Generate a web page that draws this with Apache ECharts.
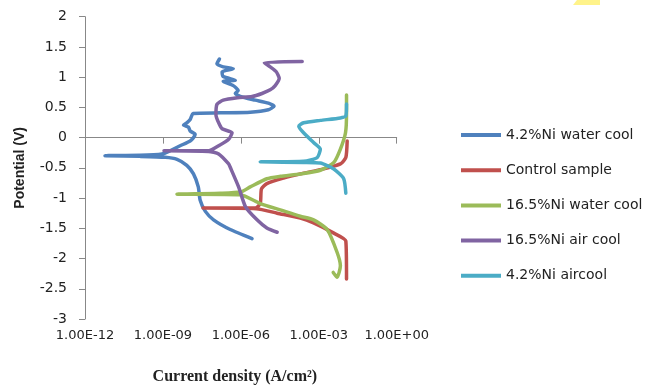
<!DOCTYPE html>
<html>
<head>
<meta charset="utf-8">
<script src="https://cdn.jsdelivr.net/npm/echarts@6/dist/echarts.min.js"></script>
<style>html,body{margin:0;padding:0;background:#fff}#c{width:657px;height:390px}</style>
</head>
<body>
<div id="c"></div>
<script>
// Series names
const seriesNames = ['4.2%Ni water cool', 'Control sample', '16.5%Ni water cool', '16.5%Ni air cool', '4.2%Ni aircool'];
// x tick values (A/cm2) and y range (V)
const xTicks = [1e-12, 1e-9, 1e-6, 1e-3, 1];
const yRange = [-3, 2];

// [current density (A/cm2), potential (V)]
const blueData = [
  [1.5e-7,1.30],[1.2e-7,1.22],[2.1e-7,1.17],[5.1e-7,1.14],[1.9e-7,1.09],[2.1e-7,1.01],[6.1e-7,0.95],
  [2.1e-7,0.93],[5.1e-7,0.86],[7.9e-7,0.78],[6.1e-7,0.73],[9.6e-7,0.68],[3.6e-6,0.62],[1.15e-5,0.57],
  [1.9e-5,0.52],[1.15e-5,0.46],[2.3e-6,0.42],[1.6e-7,0.41],[1.46e-8,0.40],[1.12e-8,0.30],[8.3e-9,0.245],
  [6.2e-9,0.207],[9.6e-9,0.174],[1.12e-8,0.109],[1.74e-8,0.054],[1.5e-8,0],[1.12e-8,-0.054],
  [4.6e-9,-0.135],[1.9e-9,-0.217],[9.2e-10,-0.272],[1.3e-10,-0.293],[5.9e-12,-0.298],[1.3e-10,-0.31],
  [1.22e-9,-0.326],[3.5e-9,-0.36],[8.3e-9,-0.46],[1.5e-8,-0.60],[2.3e-8,-0.815],[2.7e-8,-1.03],
  [4.3e-8,-1.22],[8.9e-8,-1.36],[3.9e-7,-1.52],[2.7e-6,-1.67]
];
const redData = [
  [1.24e-2,-0.054],[1.1e-2,-0.33],[6.8e-3,-0.435],[1.55e-3,-0.517],[1.95e-4,-0.60],[4.4e-5,-0.67],
  [1.0e-5,-0.76],[6.2e-6,-0.85],[5.6e-6,-1.09],[3.6e-6,-1.165],[3.5e-8,-1.165],[4.0e-6,-1.175],
  [2.5e-5,-1.25],[1.95e-4,-1.33],[6.3e-4,-1.41],[3.8e-3,-1.58],[1.1e-2,-1.71],[1.17e-2,-2.34]
];
const greenData = [
  [1.17e-2,0.706],[1.17e-2,0.41],[1.07e-2,0.08],[6.8e-3,-0.19],[3.8e-3,-0.41],[1.15e-3,-0.54],
  [1.95e-4,-0.60],[3.3e-5,-0.64],[1.0e-5,-0.68],[2.3e-6,-0.815],[9.6e-7,-0.90],[1.6e-7,-0.92],
  [3.5e-9,-0.935],[9.6e-7,-0.945],[5.6e-6,-1.09],[3.3e-5,-1.195],[1.95e-4,-1.30],[6.3e-4,-1.36],
  [2.1e-3,-1.52],[5.1e-3,-1.90],[6.8e-3,-2.12],[5.1e-3,-2.31],[3.6e-3,-2.23]
];
const purpleData = [
  [2.3e-4,1.26],[8.0e-6,1.24],[1.35e-5,1.17],[2.3e-5,1.09],[3.0e-5,0.98],[2.1e-5,0.86],[1.35e-5,0.79],
  [6.5e-6,0.73],[2.7e-6,0.68],[7.3e-7,0.66],[2.1e-7,0.62],[1.2e-7,0.55],[1.1e-7,0.375],[1.4e-7,0.245],
  [1.9e-7,0.147],[4.6e-7,0.08],[3.4e-7,-0.028],[1.4e-7,-0.135],[5.7e-8,-0.217],[7.2e-9,-0.217],
  [1.1e-9,-0.217],[5.7e-8,-0.228],[1.4e-7,-0.27],[3.4e-7,-0.435],[3.9e-7,-0.49],[8.2e-7,-0.815],
  [1.5e-6,-1.14],[4.2e-6,-1.36],[1.0e-5,-1.495],[2.5e-5,-1.565]
];
const cyanData = [
  [1.17e-2,0.555],[1.1e-2,0.36],[6.8e-3,0.326],[1.15e-3,0.285],[2.6e-4,0.245],[1.7e-4,0.19],
  [2.6e-4,0.08],[6.3e-4,-0.08],[1.15e-3,-0.19],[8.7e-4,-0.33],[2.6e-4,-0.39],[5.6e-6,-0.40],
  [2.6e-4,-0.41],[1.15e-3,-0.42],[3.8e-3,-0.52],[9.1e-3,-0.68],[1.1e-2,-0.92]
];

const colors = ['#4F81BD', '#C0504D', '#9BBB59', '#8064A2', '#4BACC6'];
const allData = [blueData, redData, greenData, purpleData, cyanData];

function fmtTick(v) {
  const e = Math.round(Math.log10(v));
  return '1.00E' + (e >= 0 ? '+' : '-') + String(Math.abs(e)).padStart(2, '0');
}

const chart = echarts.init(document.getElementById('c'), null, {renderer: 'canvas'});
chart.setOption({
  animation: false,
  backgroundColor: '#fff',
  color: colors,
  grid: {left: 85, right: 260.3, top: 16.7, bottom: 66.7, containLabel: false},
  xAxis: {
    type: 'log', logBase: 1000, min: xTicks[0], max: xTicks[xTicks.length - 1], interval: 1,
    name: 'Current density (A/cm²)', nameLocation: 'middle', nameGap: 50,
    nameTextStyle: {fontFamily: 'Liberation Serif', fontWeight: 'bold', fontSize: 16, color: '#222', padding: [0, 12, 0, 0]},
    axisLine: {lineStyle: {color: '#888', width: 1}},
    axisTick: {show: true, length: 6, lineStyle: {color: '#888'}},
    minorTick: {show: false},
    splitLine: {show: false},
    axisLabel: {formatter: fmtTick, fontFamily: 'DejaVu Sans', fontSize: 13, color: '#222', margin: 10}
  },
  yAxis: {
    type: 'value', min: yRange[0], max: yRange[1], interval: 0.5,
    name: 'Potential (V)', nameLocation: 'middle', nameGap: 58, nameRotate: 90,
    nameTextStyle: {fontFamily: 'Liberation Sans', fontWeight: 'bold', fontSize: 14, color: '#222'},
    axisLine: {show: true, lineStyle: {color: '#888', width: 1}},
    axisTick: {show: true, length: 6, lineStyle: {color: '#888'}},
    splitLine: {show: false},
    axisLabel: {fontFamily: 'DejaVu Sans', fontSize: 14, color: '#222', margin: 18}
  },
  legend: {
    orient: 'vertical', left: 456, top: 122,
    icon: 'rect', itemWidth: 40, itemHeight: 4, itemGap: 19.2,
    textStyle: {fontFamily: 'DejaVu Sans', fontSize: 14, color: '#222', lineHeight: 16},
    data: seriesNames
  },
  graphic: [{
    type: 'polygon', silent: true,
    shape: {points: [[577, 0], [600, 0], [600, 5], [573, 5]]},
    style: {fill: '#FFF38A'}
  }],
  series: allData.map((d, i) => ({
    name: seriesNames[i], type: 'line', data: d, showSymbol: false, symbol: 'none',
    smooth: 0.2,
    lineStyle: {width: 3.5, color: colors[i], cap: 'round', join: 'round'},
    itemStyle: {color: colors[i]}
  }))
});
</script>
</body>
</html>
